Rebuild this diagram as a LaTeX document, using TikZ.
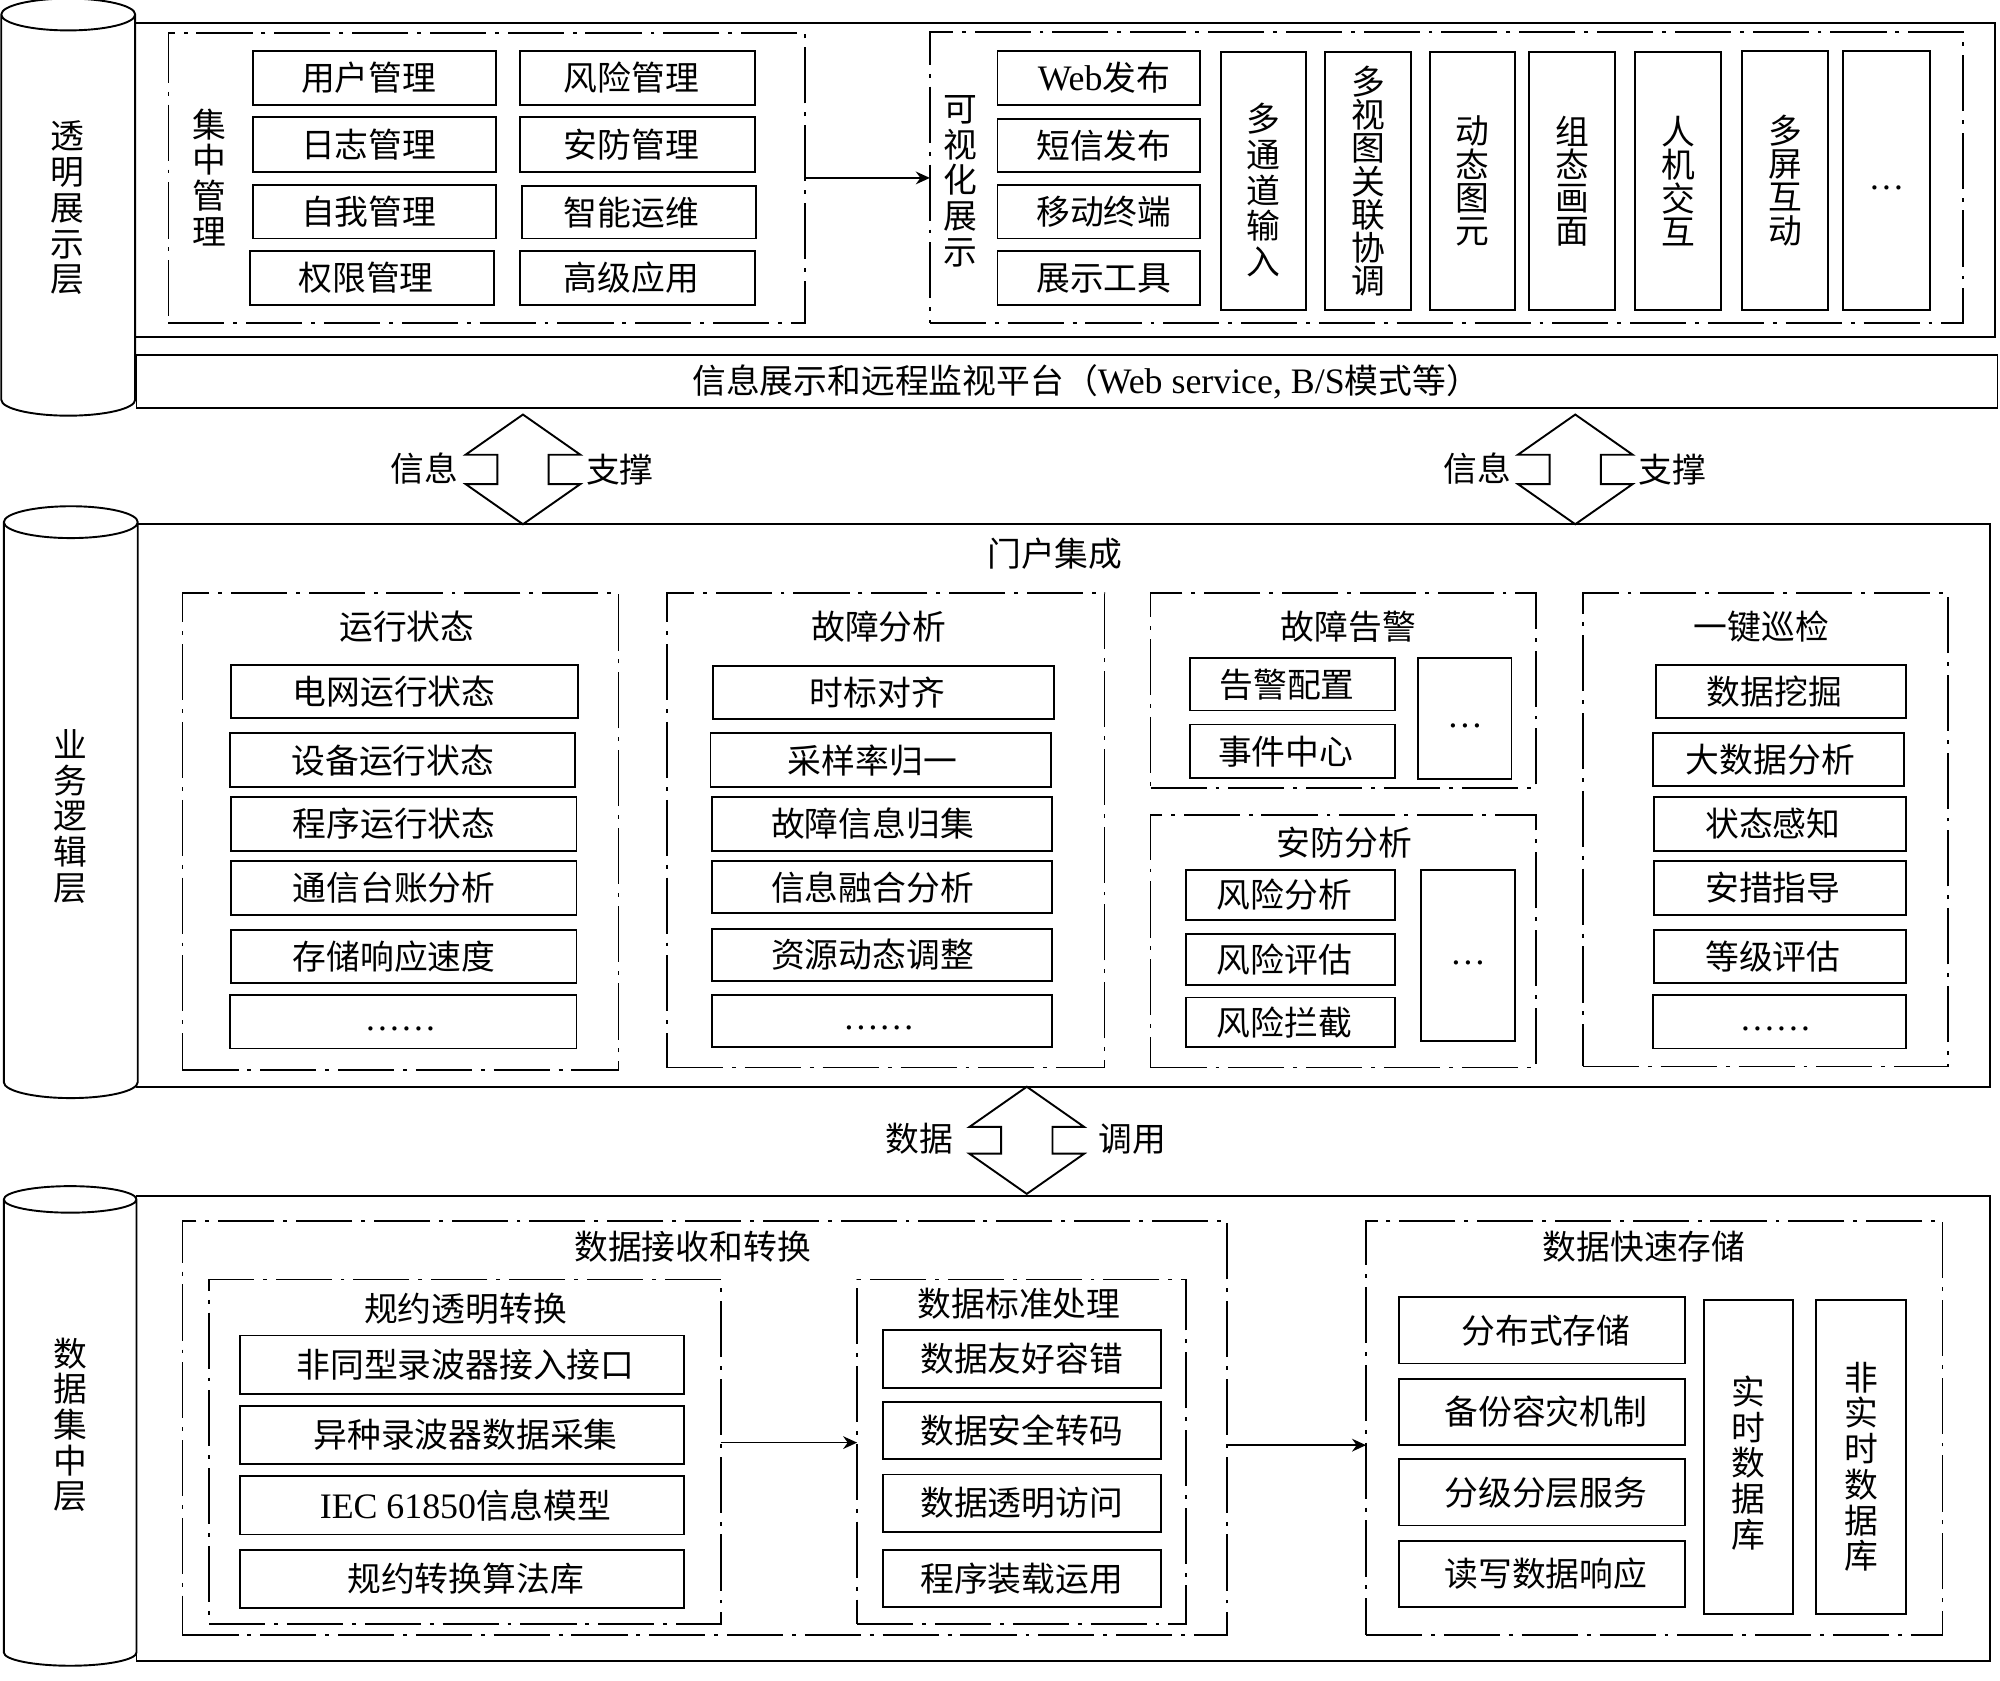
\documentclass[tikz,border=0pt]{standalone}
\usepackage{fontspec}
\setmainfont{Noto Sans CJK SC}
\newfontfamily\latfont[Scale=1.06]{Liberation Serif}
\usetikzlibrary{arrows.meta,shapes.geometric,shapes.arrows}
\newcommand{\nudge}[2]{\makebox[0pt]{#2\hspace{#1pt}\hspace{#1pt}}}
\newcommand{\dotsmark}[1]{\raisebox{-7pt}[0pt][0pt]{\latfont #1}}
\newcommand{\cylfill}{\phantom{\rule{26pt}{137pt}}}
\tikzset{
    boxsize/.style 2 args={minimum width=#1pt,minimum height=#2pt},
    basebox/.style={rectangle,inner sep=0pt,outer sep=0pt,align=center},
    framebox/.style={basebox,draw,line width=1.5pt},
    itembox/.style={basebox,draw,line width=1.5pt},
    groupbox/.style={basebox,draw,line width=1.3pt,dash pattern=on 44pt off 7pt on 3pt off 7pt},
    caption/.style={inner sep=0pt,outer sep=0pt,align=center},
    layercyl/.style={cylinder,shape border rotate=90,draw,fill=white,line width=1.5pt,
        inner sep=0pt,outer sep=0pt,align=center,shape aspect=0.96},
    twoway/.style={double arrow,shape border rotate=90,draw,fill=white,line width=1.5pt,
        inner xsep=5pt,inner ysep=0pt,outer sep=0pt,double arrow tip angle=110},
    flow/.style={line width=1.3pt,-{Stealth[length=11pt,width=10pt]}},
}
\begin{document}
\begin{tikzpicture}[x=1pt,y=-1pt,font=\fontsize{26.5}{28}\selectfont]
    \useasboundingbox (0,0) rectangle (1568,1317.12);
    %% Layer frames
    \node[framebox,boxsize={1458}{246}] (presentFrame) at (835,141) {};
    \node[framebox,boxsize={1459}{42}] (platformBar) at (836.5,299) {\nudge{-15}{信息展示和远程监视平台（{\latfont Web service, B/S}模式等）}};
    \node[framebox,boxsize={1453}{441}] (logicFrame) at (833.5,631.5) {};
    \node[framebox,boxsize={1453}{364}] (dataFrame) at (833.5,1120) {};
    %% Cylinders
    \node[layercyl,minimum width=105pt,minimum height=327pt] (presentCyl) at (53.5,169) {\cylfill};
    \node[caption] (presentName) at (53,163) {透\\明\\展\\示\\层};
    \node[layercyl,minimum width=105pt,minimum height=464pt] (logicCyl) at (55.5,635.5) {\cylfill};
    \node[caption] (logicName) at (55,640) {业\\务\\逻\\辑\\层};
    \node[layercyl,minimum width=104pt,minimum height=376pt,shape aspect=0.8] (dataCyl) at (55,1123.5) {\cylfill};
    \node[caption] (dataName) at (55,1117) {数\\据\\集\\中\\层};
    %% Presentation layer, left group
    \node[groupbox,boxsize={499}{227}] (mgmtGroup) at (381.5,139.5) {};
    \node[caption] (mgmtTitle) at (164,139) {集\\中\\管\\理};
    \node[itembox,boxsize={191}{42}] (userMgmt) at (293.5,61) {\nudge{4.5}{用户管理}};
    \node[itembox,boxsize={191}{43}] (logMgmt) at (293.5,113.5) {\nudge{4.5}{日志管理}};
    \node[itembox,boxsize={191}{42}] (selfMgmt) at (293.5,166) {\nudge{4.5}{自我管理}};
    \node[itembox,boxsize={191}{42}] (rightMgmt) at (291.5,218) {\nudge{4.5}{权限管理}};
    \node[itembox,boxsize={184}{42}] (riskMgmt) at (500,61) {\nudge{5}{风险管理}};
    \node[itembox,boxsize={184}{43}] (secMgmt) at (500,113.5) {\nudge{5}{安防管理}};
    \node[itembox,boxsize={184}{41}] (opsMgmt) at (501,166.5) {\nudge{6}{智能运维}};
    \node[itembox,boxsize={184}{42}] (advApp) at (500,218) {\nudge{5}{高级应用}};
    %% Presentation layer, right group
    \node[groupbox,boxsize={810}{228}] (visualGroup) at (1134,139) {};
    \node[caption] (visualTitle) at (753,142) {可\\视\\化\\展\\示};
    \node[itembox,boxsize={159}{42}] (webPub) at (861.5,61) {\nudge{-4}{{\latfont Web}发布}};
    \node[itembox,boxsize={159}{42}] (smsPub) at (861.5,114) {\nudge{-4}{短信发布}};
    \node[itembox,boxsize={159}{42}] (mobile) at (861.5,166) {\nudge{-4}{移动终端}};
    \node[itembox,boxsize={159}{42}] (showTool) at (861.5,218) {\nudge{-4}{展示工具}};
    \node[itembox,boxsize={67}{202},label={[caption,yshift=-7pt]center:多\\通\\道\\输\\入}] (multiIn) at (990.5,142) {};
    \node[itembox,boxsize={67}{202},font=\fontsize{26.5}{26}\selectfont] (multiView) at (1072.5,142) {多\\视\\图\\关\\联\\协\\调};
    \node[itembox,boxsize={67}{202},font=\fontsize{26.5}{26}\selectfont] (dynElem) at (1154.5,142) {动\\态\\图\\元};
    \node[itembox,boxsize={67}{202},font=\fontsize{26.5}{26}\selectfont] (confPic) at (1232.5,142) {组\\态\\画\\面};
    \node[itembox,boxsize={67}{202},font=\fontsize{26.5}{26}\selectfont] (hmi) at (1315.5,142) {人\\机\\交\\互};
    \node[itembox,boxsize={67}{203},font=\fontsize{26.5}{26}\selectfont] (multiScr) at (1399.5,141.5) {多\\屏\\互\\动};
    \node[itembox,boxsize={68}{203}] (moreShow) at (1479,141.5) {\dotsmark{…}};
    \draw[flow] (mgmtGroup.east) -- (mgmtGroup.east -| visualGroup.west);
    %% Two-way arrows
    \node[twoway,minimum height=86pt,minimum width=90pt] (arrowLeft) at (410,368) {};
    \node[caption] (infoLeft) at (333,367) {信息};
    \node[caption] (supportLeft) at (486,368) {支撑};
    \node[twoway,minimum height=86pt,minimum width=90pt] (arrowRight) at (1235,368) {};
    \node[caption] (infoRight) at (1158,367) {信息};
    \node[caption] (supportRight) at (1311,368) {支撑};
    \node[twoway,minimum height=84pt,minimum width=90pt] (arrowData) at (805,894) {};
    \node[caption] (dataWord) at (721,893) {数据};
    \node[caption] (callWord) at (888,893) {调用};
    %% Logic layer
    \node[caption] (portalTitle) at (827,434) {门户集成};
    \node[groupbox,boxsize={342}{374}] (runGroup) at (314,652) {};
    \node[caption] (runTitle) at (319,491) {运行状态};
    \node[itembox,boxsize={272}{42}] (gridRun) at (317,542) {\nudge{8}{电网运行状态}};
    \node[itembox,boxsize={271}{42}] (devRun) at (315.5,596) {\nudge{7.5}{设备运行状态}};
    \node[itembox,boxsize={271}{42}] (progRun) at (316.5,646) {\nudge{7.5}{程序运行状态}};
    \node[itembox,boxsize={271}{42}] (commAcc) at (316.5,696) {\nudge{7.5}{通信台账分析}};
    \node[itembox,boxsize={271}{42}] (storeResp) at (316.5,750) {\nudge{7.5}{存储响应速度}};
    \node[itembox,boxsize={272}{42}] (moreRun) at (316,801) {\nudge{2}{\dotsmark{……}}};
    \node[groupbox,boxsize={343}{372}] (faultGroup) at (694.5,651) {};
    \node[caption] (faultTitle) at (689,491) {故障分析};
    \node[itembox,boxsize={267}{42}] (timeAlign) at (692.5,543) {\nudge{4.5}{时标对齐}};
    \node[itembox,boxsize={267}{42}] (sampleNorm) at (690.5,596) {\nudge{6.5}{采样率归一}};
    \node[itembox,boxsize={267}{42}] (faultCollect) at (691.5,646) {\nudge{7.5}{故障信息归集}};
    \node[itembox,boxsize={267}{41}] (infoFusion) at (691.5,695.5) {\nudge{7.5}{信息融合分析}};
    \node[itembox,boxsize={267}{41}] (resAdjust) at (691.5,748.5) {\nudge{7.5}{资源动态调整}};
    \node[itembox,boxsize={267}{41}] (moreFault) at (691.5,800.5) {\nudge{2.5}{\dotsmark{……}}};
    \node[groupbox,boxsize={302}{153}] (alarmGroup) at (1053,541.5) {};
    \node[caption] (alarmTitle) at (1057,491) {故障告警};
    \node[itembox,boxsize={161}{41}] (alarmConf) at (1013.5,536.5) {\nudge{4.5}{告警配置}};
    \node[itembox,boxsize={161}{42}] (eventCenter) at (1013.5,589) {\nudge{5.5}{事件中心}};
    \node[itembox,boxsize={73}{95}] (moreAlarm) at (1148.5,563.5) {\dotsmark{…}};
    \node[groupbox,boxsize={302}{198}] (secGroup) at (1053,738) {};
    \node[caption] (secTitle) at (1054,661) {安防分析};
    \node[itembox,boxsize={164}{39}] (riskAna) at (1012,701.5) {\nudge{5}{风险分析}};
    \node[itembox,boxsize={164}{40}] (riskEval) at (1012,752) {\nudge{5}{风险评估}};
    \node[itembox,boxsize={164}{39}] (riskStop) at (1012,801.5) {\nudge{5}{风险拦截}};
    \node[itembox,boxsize={74}{134}] (moreSec) at (1151,749) {\dotsmark{…}};
    \node[groupbox,boxsize={286}{371}] (patrolGroup) at (1384,650.5) {};
    \node[caption] (patrolTitle) at (1381,491) {一键巡检};
    \node[itembox,boxsize={196}{42}] (dataMine) at (1396,542) {\nudge{5}{数据挖掘}};
    \node[itembox,boxsize={197}{41}] (bigData) at (1394.5,595.5) {\nudge{6.5}{大数据分析}};
    \node[itembox,boxsize={197}{42}] (stateSense) at (1395.5,646) {\nudge{5.5}{状态感知}};
    \node[itembox,boxsize={197}{42}] (safeGuide) at (1395.5,696) {\nudge{5.5}{安措指导}};
    \node[itembox,boxsize={197}{42}] (gradeEval) at (1395.5,750) {\nudge{5.5}{等级评估}};
    \node[itembox,boxsize={198}{42}] (morePatrol) at (1395,801) {\nudge{3}{\dotsmark{……}}};
    %% Data layer
    \node[groupbox,boxsize={819}{325}] (recvGroup) at (552.5,1119.5) {};
    \node[caption] (recvTitle) at (543,977) {数据接收和转换};
    \node[groupbox,boxsize={401}{270}] (protoGroup) at (364.5,1138) {};
    \node[caption] (protoTitle) at (365,1026) {规约透明转换};
    \node[itembox,boxsize={348}{46}] (protoIn) at (362,1070) {\nudge{-3}{非同型录波器接入接口}};
    \node[itembox,boxsize={348}{46}] (protoCollect) at (362,1125) {\nudge{-3}{异种录波器数据采集}};
    \node[itembox,boxsize={348}{46}] (protoModel) at (362,1180) {\nudge{-3}{{\latfont IEC 61850}信息模型}};
    \node[itembox,boxsize={348}{46}] (protoAlgo) at (362,1238) {\nudge{-3}{规约转换算法库}};
    \node[groupbox,boxsize={258}{270}] (stdGroup) at (801,1138) {};
    \node[caption] (stdTitle) at (799,1022) {数据标准处理};
    \node[itembox,boxsize={218}{45}] (stdTol) at (801,1065.5) {数据友好容错};
    \node[itembox,boxsize={218}{45}] (stdCode) at (801,1121.5) {数据安全转码};
    \node[itembox,boxsize={218}{45}] (stdAccess) at (801,1178.5) {数据透明访问};
    \node[itembox,boxsize={218}{45}] (stdLoad) at (801,1237.5) {程序装载运用};
    \node[groupbox,boxsize={452}{325}] (storeGroup) at (1297,1119.5) {};
    \node[caption] (storeTitle) at (1289,977) {数据快速存储};
    \node[itembox,boxsize={224}{52}] (distStore) at (1209,1043) {\nudge{-3}{分布式存储}};
    \node[itembox,boxsize={224}{52}] (backupStore) at (1209,1107) {\nudge{-3}{备份容灾机制}};
    \node[itembox,boxsize={224}{52}] (tierStore) at (1209,1170) {\nudge{-3}{分级分层服务}};
    \node[itembox,boxsize={224}{52}] (rwStore) at (1209,1234) {\nudge{-3}{读写数据响应}};
    \node[itembox,boxsize={70}{246},label={[caption,yshift=-5pt]center:实\\时\\数\\据\\库}] (realDb) at (1371,1142) {};
    \node[itembox,boxsize={70}{246},label={[caption,yshift=-8pt]center:非\\实\\时\\数\\据\\库}] (histDb) at (1459,1142) {};
    \draw[flow] ([yshift=7pt]protoGroup.east) -- ([yshift=7pt]stdGroup.west);
    \draw[flow] ([yshift=-13.5pt]recvGroup.east) -- ([yshift=-13.5pt]storeGroup.west);
\end{tikzpicture}
\end{document}
